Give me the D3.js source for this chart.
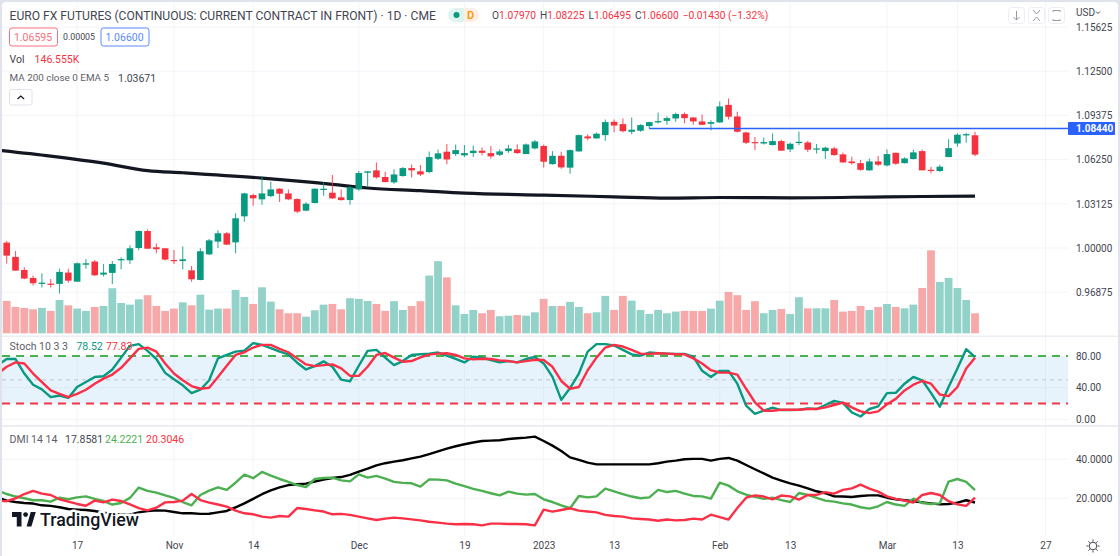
<!DOCTYPE html>
<html>
<head>
<meta charset="utf-8">
<script src="https://cdn.jsdelivr.net/npm/d3@7"></script>
<style>
html, body { margin: 0; padding: 0; background: #e0e3eb; overflow: hidden; }
svg { display: block; font-family: Roboto, "Noto Sans", sans-serif; }
.axis text { fill: #434651; font-size: 10px; font-family: Roboto, sans-serif; }
.axis .domain, .axis line { display: none; }
</style>
</head>
<body>
<svg id="chart" width="1120" height="556"></svg>
<script>
var opens = [1.0038,.9937,.9845,.9788,.9746,.9748,.9746,.9826,.9762,.9882,
.9904,.9812,.9824,.9913,.9913,1.0000,1.0120,1.0005,.9998,.9915,
.9908,.9842,.9774,.9955,1.0045,1.0104,1.0040,1.0224,1.0374,1.0344,
1.0367,1.0419,1.0386,1.0346,1.0264,1.0318,1.0410,1.0391,1.0358,1.0339,
1.0414,1.0532,1.0549,1.0502,1.0464,1.0509,1.0565,1.0542,1.0537,1.0631,
1.0681,1.0664,1.0655,1.0671,1.0688,1.0671,1.0659,1.0685,1.0697,1.0664,
1.0704,1.0721,1.0593,1.0652,1.0568,1.0683,1.0789,1.0775,1.0798,1.0892,
1.0876,1.0822,1.0829,1.0862,1.0888,1.0899,1.0916,1.0947,1.0923,1.0895,
1.0878,1.0888,1.1012,1.0930,1.0817,1.0749,1.0739,1.0728,1.0756,1.0697,
1.0742,1.0746,1.0699,1.0685,1.0704,1.0662,1.0612,1.0600,1.0549,1.0612,
1.0584,1.0673,1.0600,1.0629,1.0685,1.0553,1.0544,1.0643,1.0739,1.0796,1.0797];
var highs = [1.0050,.9979,.9864,.9805,.9821,.9781,.9854,.9854,.9897,.9922,
.9915,.9887,.9908,.9934,1.0019,1.0123,1.0132,1.0031,.9998,.9986,
1.0010,.9873,.9998,1.0064,1.0125,1.0113,1.0245,1.0391,1.0384,1.0509,
1.0469,1.0422,1.0414,1.0351,1.0323,1.0422,1.0464,1.0516,1.0414,1.0438,
1.0544,1.0544,1.0605,1.0539,1.0556,1.0572,1.0591,1.0586,1.0683,1.0697,
1.0735,1.0732,1.0728,1.0725,1.0711,1.0721,1.0699,1.0730,1.0732,1.0739,
1.0763,1.0732,1.0685,1.0681,1.0697,1.0803,1.0805,1.0817,1.0909,1.0909,
1.0916,1.0923,1.0876,1.0892,1.0958,1.0932,1.0956,1.0958,1.0925,1.0944,
1.0904,1.1036,1.1057,1.0963,1.0822,1.0784,1.0782,1.0810,1.0765,1.0746,
1.0824,1.0758,1.0735,1.0716,1.0716,1.0676,1.0645,1.0622,1.0633,1.0650,
1.0697,1.0676,1.0641,1.0697,1.0697,1.0575,1.0589,1.0768,1.0812,1.0815,1.08225];
var lows = [.9890,.9840,.9779,.9734,.9720,.9720,.9678,.9755,.9762,.9854,
.9802,.9798,.9746,.9850,.9887,.9984,.9995,.9962,.9911,.9887,
.9850,.9762,.9772,.9951,1.0000,1.0021,.9962,1.0186,1.0299,1.0306,
1.0358,1.0325,1.0337,1.0245,1.0259,1.0316,1.0370,1.0346,1.0334,1.0306,
1.0405,1.0433,1.0492,1.0464,1.0455,1.0504,1.0499,1.0509,1.0530,1.0622,
1.0593,1.0650,1.0643,1.0643,1.0655,1.0631,1.0650,1.0673,1.0666,1.0664,
1.0697,1.0570,1.0589,1.0560,1.0525,1.0681,1.0761,1.0772,1.0758,1.0819,
1.0817,1.0805,1.0822,1.0843,1.0881,1.0871,1.0892,1.0881,1.0871,1.0869,
1.0831,1.0885,1.0909,1.0817,1.0735,1.0692,1.0732,1.0725,1.0688,1.0678,
1.0728,1.0678,1.0669,1.0629,1.0652,1.0603,1.0591,1.0546,1.0546,1.0579,
1.0577,1.0589,1.0598,1.0626,1.0549,1.0527,1.0539,1.0641,1.0716,1.0744,1.06495];
var closes = [.9946,.9840,.9784,.9751,.9755,.9741,.9831,.9769,.9892,.9892,
.9807,.9826,.9887,.9922,.9998,1.0120,.9995,.9991,.9918,.9911,
.9920,.9779,.9977,1.0054,1.0104,1.0024,1.0210,1.0386,1.0351,1.0386,
1.0414,1.0384,1.0344,1.0257,1.0313,1.0419,1.0419,1.0351,1.0339,1.0429,
1.0530,1.0542,1.0499,1.0466,1.0520,1.0565,1.0549,1.0520,1.0643,1.0669,
1.0626,1.0692,1.0671,1.0688,1.0673,1.0648,1.0683,1.0704,1.0671,1.0732,
1.0753,1.0610,1.0652,1.0570,1.0692,1.0798,1.0775,1.0808,1.0890,1.0866,
1.0826,1.0836,1.0869,1.0890,1.0897,1.0918,1.0947,1.0918,1.0895,1.0871,
1.0890,1.1001,1.0928,1.0822,1.0744,1.0742,1.0749,1.0756,1.0688,1.0737,
1.0751,1.0695,1.0704,1.0709,1.0657,1.0605,1.0600,1.0553,1.0612,1.0589,
1.0664,1.0596,1.0633,1.0676,1.0549,1.0546,1.0575,1.0706,1.0801,1.0805,1.0660];
// volume in thousands
var volumes = [237,193,186,176,186,164,244,205,181,164,
193,200,330,222,210,249,279,200,164,181,
227,205,283,173,181,181,318,266,215,337,
232,176,147,147,122,169,210,215,176,257,
252,237,215,164,235,171,200,235,423,528,
410,205,142,171,147,171,125,129,134,129,
154,252,200,200,230,193,147,154,274,171,
274,239,171,142,171,147,159,164,164,164,
181,239,303,279,171,235,147,171,178,142,
264,183,183,183,244,159,164,200,171,193,
215,193,183,210,332,608,376,406,332,244,146.555];

// indicators start one session before the first visible candle
var stochK = [68.5,76.2,76.2,57.9,43.8,37.9,28.1,30.2,27.2,40.9,47.2,
53.6,54.5,63.0,77.9,92.8,94.9,86.4,76.2,58.7,50.6,
43.0,33.2,37.5,49.4,77.0,81.3,85.5,86.8,96.2,94.0,
89.8,85.5,82.1,71.5,63.0,67.2,73.2,66.4,50.2,48.1,
67.7,86.4,87.7,77.9,68.5,73.6,81.3,82.1,83.0,84.3,
80.4,76.2,71.9,79.1,77.9,74.9,71.9,73.6,71.9,76.2,
78.7,70.6,53.6,24.7,39.6,57.9,85.5,94.9,94.9,93.2,
87.7,82.1,80.4,84.3,83.4,83.0,82.6,82.6,79.1,61.3,
53.6,61.3,61.3,45.1,17.5,7.2,11.1,14.9,11.9,11.9,
12.3,14.0,13.2,18.3,23.4,20.9,8.9,3.8,13.2,16.6,
33.2,33.6,45.1,53.6,49.4,33.6,16.2,40.9,64.3,88.5,78.52];
var stochD = [57.9,66.4,71.9,70.6,57.9,47.2,36.6,32.3,28.1,32.3,37.5,
45.1,51.5,56.6,65.1,77.0,88.9,90.6,85.5,70.6,57.9,
49.4,42.1,38.7,40.0,53.6,67.7,81.3,84.7,90.6,94.0,
94.0,88.9,84.7,77.0,69.4,67.2,68.5,69.4,64.3,54.9,
54.9,66.4,81.3,83.8,77.9,72.8,73.6,78.3,81.7,83.0,
83.4,81.3,77.0,75.7,76.6,76.2,74.5,73.6,71.9,73.6,
75.3,74.9,66.4,48.5,38.7,40.9,62.1,77.9,90.6,94.0,
91.9,87.7,83.0,82.6,83.4,83.0,82.1,82.1,77.0,70.6,
62.1,59.1,59.1,56.6,38.7,21.7,11.1,11.1,12.3,12.3,
12.3,13.2,13.2,15.3,18.3,21.3,15.3,10.2,8.1,10.2,
19.2,26.0,36.6,43.8,48.5,45.1,31.5,29.4,40.9,64.3,77.83];
var adx = [20.3,18.8,18.1,17.6,17.3,16.4,16.1,15.4,14.5,14.2,14.0,
13.5,12.6,12.0,11.6,11.6,12.8,13.5,13.8,13.7,13.0,
12.3,12.3,12.0,12.1,12.8,13.5,15.4,17.4,19.7,22.1,
24.1,25.6,26.8,27.2,27.5,28.6,29.6,30.4,30.9,32.0,
33.7,35.2,36.9,38.0,38.8,39.5,40.5,41.4,42.7,44.1,
45.5,46.7,47.7,48.6,49.4,49.6,49.8,50.4,50.8,51.1,
51.6,49.4,47.0,44.3,41.0,39.7,38.3,37.4,37.4,37.4,
37.4,37.4,37.4,37.4,38.0,38.8,39.3,40.0,40.2,40.2,
39.3,40.2,40.7,39.3,37.1,34.9,32.8,30.6,29.1,27.7,
26.5,25.1,23.6,22.6,21.0,20.9,20.7,21.2,21.5,21.5,
20.3,19.5,19.0,18.5,17.9,17.4,16.9,17.1,17.8,19.0,17.8581];
var plusDI = [23.9,22.2,20.9,20.0,19.0,19.0,18.3,20.3,19.5,20.5,21.0,
19.7,18.6,16.8,17.6,20.2,25.5,23.8,22.9,21.5,20.2,
18.1,16.4,21.7,23.9,25.6,24.3,28.0,32.1,30.3,33.5,
31.6,29.9,28.4,26.8,25.8,29.9,30.4,30.6,29.2,28.7,
32.3,30.6,31.5,30.1,28.4,27.9,27.7,26.0,29.7,29.6,
29.2,27.5,26.2,24.8,23.8,22.6,21.5,23.4,22.4,21.9,
22.2,19.5,18.1,16.4,14.9,21.2,20.5,21.0,25.0,23.6,
22.1,20.9,20.0,20.5,24.3,23.2,23.8,22.4,21.2,21.0,
19.8,28.0,26.5,23.6,21.9,20.7,19.7,20.3,19.1,18.1,
22.7,21.7,20.2,18.8,18.3,17.4,16.8,15.4,14.7,15.9,
18.1,16.8,16.1,19.8,17.6,17.1,17.4,28.6,29.9,28.4,24.2221];
var minusDI = [18.8,18.5,20.0,22.2,23.8,22.4,21.7,19.5,18.3,17.1,16.2,
18.8,17.9,19.3,18.6,16.9,15.0,13.8,15.2,17.9,18.1,
18.8,22.2,19.1,17.8,16.8,15.7,13.7,12.3,11.8,10.6,
10.1,10.9,10.6,15.0,14.5,13.8,13.2,11.8,12.0,11.5,
10.6,9.7,8.9,9.6,10.1,9.7,9.2,8.7,8.0,7.5,
7.0,6.7,6.8,6.7,6.1,7.0,7.0,6.8,6.8,6.7,
6.1,14.2,13.2,14.0,14.9,13.7,13.2,12.8,11.5,10.9,
10.6,9.7,9.4,9.1,8.5,9.1,8.7,8.9,9.6,9.1,
11.6,10.3,9.1,15.0,20.3,21.5,20.9,19.5,21.4,21.0,
19.3,21.7,21.7,23.2,22.4,24.3,25.1,27.0,25.0,23.4,
21.0,19.7,18.8,17.8,21.7,22.7,21.7,18.5,16.9,16.1,20.3046];

var maSessions = [-1,5,11,16,20,29,37,41,47,52,61,69,75,81,89,100,110];
var maValues = [1.0692,1.0650,1.0600,1.0547,1.0532,1.0494,1.0450,1.0424,1.0405,1.0388,1.0374,1.0362,1.0353,1.0357,1.0355,1.0362,1.03671];

var priceTicks = [1.15625,1.125,1.09375,1.0625,1.03125,1,.96875];
var stochTicks = [80,40,0];
var dmiTicks = [40,20];
var timeSessions = [8,19,28,40,52,61,69,81,89,100,108,118];
var timeLabels = ['17','Nov','14','Dec','19','2023','13','Feb','13','Mar','13','27'];
var levelPrice = 1.0844;
var levelStart = 73;

var UP = '#089981', DOWN = '#f7323f', UP_VOL = '#92d2c9', DOWN_VOL = '#f7a9a9';
var GRID = '#f2f4f8', TEXT = '#434651', MUTED = '#5d606b';
var plotLeft = 2, plotRight = 1068;

var svg = d3.select('#chart');

// scales
var x = d3.scaleLinear().domain([0, 110]).range([6.7, 975]);
var yPrice = d3.scaleLinear().domain([1, 1.15625]).range([248, 27]);
var yVol = d3.scaleLinear().domain([0, 608]).range([333.3, 250.3]);
var yStoch = d3.scaleLinear().domain([0, 100]).range([419.5, 340.1]);
var yDmi = d3.scaleLinear().domain([20, 40]).range([498.3, 459.3]);

svg.append('rect').attr('x', 2).attr('y', 2).attr('width', 1116).attr('height', 560).attr('rx', 4).attr('fill', '#fff');

svg.append('clipPath').attr('id', 'plot').append('rect')
    .attr('x', plotLeft).attr('y', 2).attr('width', plotRight - plotLeft).attr('height', 540);

var plot = svg.append('g').attr('clip-path', 'url(#plot)');

// grid
plot.selectAll('.vgrid').data(timeSessions).enter().append('line')
    .attr('x1', function (d) { return x(d); }).attr('x2', function (d) { return x(d); })
    .attr('y1', 2).attr('y2', 535)
    .attr('stroke', GRID);

var hgrid = function (scale, ticks) {
    plot.selectAll(null).data(ticks).enter().append('line')
        .attr('x1', plotLeft).attr('x2', plotRight)
        .attr('y1', function (d) { return scale(d); }).attr('y2', function (d) { return scale(d); })
        .attr('stroke', GRID);
};
hgrid(yPrice, priceTicks);
hgrid(yDmi, dmiTicks);

// volume
var sessions = d3.range(opens.length);
plot.selectAll('.vol').data(sessions).enter().append('rect')
    .attr('x', function (i) { return x(i) - 3.9; })
    .attr('width', 7.8)
    .attr('y', function (i) { return yVol(volumes[i]); })
    .attr('height', function (i) { return yVol(0) - yVol(volumes[i]); })
    .attr('fill', function (i) { return closes[i] >= opens[i] ? UP_VOL : DOWN_VOL; });

// moving average
var indexLine = d3.line()
    .x(function (d) { return x(d[0]); })
    .y(function (d) { return yPrice(d[1]); })
    .curve(d3.curveMonotoneX);
plot.append('path')
    .attr('d', indexLine(maSessions.map(function (s, i) { return [s, maValues[i]]; })))
    .attr('fill', 'none').attr('stroke', '#131722').attr('stroke-width', 3.2);

// candles
plot.selectAll('.wick').data(sessions).enter().append('line')
    .attr('x1', function (i) { return x(i); }).attr('x2', function (i) { return x(i); })
    .attr('y1', function (i) { return yPrice(highs[i]); })
    .attr('y2', function (i) { return yPrice(lows[i]); })
    .attr('stroke', function (i) { return closes[i] >= opens[i] ? UP : DOWN; })
    .attr('stroke-width', 1.1)
    .attr('stroke-opacity', 0.8);
plot.selectAll('.body').data(sessions).enter().append('rect')
    .attr('x', function (i) { return x(i) - 3.3; })
    .attr('width', 6.6)
    .attr('y', function (i) { return yPrice(Math.max(opens[i], closes[i])); })
    .attr('height', function (i) { return Math.max(1.2, Math.abs(yPrice(opens[i]) - yPrice(closes[i]))); })
    .attr('fill', function (i) { return closes[i] >= opens[i] ? UP : DOWN; });

// horizontal level
plot.append('line')
    .attr('x1', x(levelStart)).attr('x2', plotRight)
    .attr('y1', yPrice(levelPrice)).attr('y2', yPrice(levelPrice))
    .attr('stroke', '#2962ff').attr('stroke-width', 1.5);

// stochastic pane
plot.append('rect')
    .attr('x', plotLeft).attr('width', plotRight - plotLeft)
    .attr('y', yStoch(80)).attr('height', yStoch(20) - yStoch(80))
    .attr('fill', '#e6f3fd');
plot.selectAll('.vgrid2').data(timeSessions).enter().append('line')
    .attr('x1', function (d) { return x(d); }).attr('x2', function (d) { return x(d); })
    .attr('y1', yStoch(80)).attr('y2', yStoch(20))
    .attr('stroke', '#dfe9f2');
plot.append('line').attr('x1', plotLeft).attr('x2', plotRight)
    .attr('y1', yStoch(40)).attr('y2', yStoch(40)).attr('stroke', '#dfe9f2');
plot.append('line').attr('x1', plotLeft).attr('x2', plotRight)
    .attr('y1', yStoch(0)).attr('y2', yStoch(0)).attr('stroke', GRID);
plot.append('line').attr('x1', plotLeft).attr('x2', plotRight)
    .attr('y1', yStoch(50)).attr('y2', yStoch(50))
    .attr('stroke', '#c3c6ce').attr('stroke-dasharray', '4 4');
plot.append('line').attr('x1', plotLeft).attr('x2', plotRight)
    .attr('y1', yStoch(80)).attr('y2', yStoch(80))
    .attr('stroke', '#4caf50').attr('stroke-width', 2).attr('stroke-dasharray', '8 6');
plot.append('line').attr('x1', plotLeft).attr('x2', plotRight)
    .attr('y1', yStoch(20)).attr('y2', yStoch(20))
    .attr('stroke', '#f23645').attr('stroke-width', 2).attr('stroke-dasharray', '8 6');

var seriesLine = function (scale, values, color) {
    var line = d3.line()
        .x(function (d, i) { return x(i - 1); })
        .y(function (d) { return scale(d); });
    plot.append('path').attr('d', line(values))
        .attr('fill', 'none').attr('stroke', color).attr('stroke-width', 2.4)
        .attr('stroke-linejoin', 'round');
};
seriesLine(yStoch, stochK, UP);
seriesLine(yStoch, stochD, '#fb2f46');

// pane separator
svg.append('rect').attr('x', 2).attr('y', 335.5).attr('width', 1116).attr('height', 1.5).attr('fill', '#eceef3');
svg.append('rect').attr('x', 2).attr('y', 425).attr('width', 1116).attr('height', 2).attr('fill', '#eceef3');

// DMI pane
seriesLine(yDmi, adx, '#000');
seriesLine(yDmi, plusDI, '#4caf50');
seriesLine(yDmi, minusDI, '#fb2f46');

// watermark
var logo = svg.append('g').attr('transform', 'translate(12,512)');
logo.append('text').attr('x', 28).attr('y', 13.5)
    .attr('font-family', 'Roboto, sans-serif').attr('font-size', 17.8).attr('font-weight', 500)
    .attr('fill', 'none').attr('stroke', '#fff').attr('stroke-width', 5).attr('stroke-linejoin', 'round')
    .text('TradingView');
logo.append('path').attr('transform', 'scale(0.68,0.72)')
    .attr('d', 'M14 0H0v7h7v13h7V0Zm14 20h-6.5l6-20H35l-6.5 20Z')
    .attr('fill', '#131722');
logo.append('circle').attr('cx', 13.6).attr('cy', 2.6).attr('r', 2.4).attr('fill', '#131722');
logo.append('text').attr('x', 28).attr('y', 13.5)
    .attr('font-family', 'Roboto, sans-serif').attr('font-size', 17.8).attr('font-weight', 500)
    .attr('fill', '#131722')
    .text('TradingView');

// axes
var axisX = 1076;
var rightAxis = function (scale, ticks, fmt) {
    svg.append('g').attr('class', 'axis')
        .attr('transform', 'translate(' + (axisX - 3) + ',0)')
        .call(d3.axisRight(scale).tickValues(ticks).tickSize(0).tickPadding(3).tickFormat(fmt));
};
rightAxis(yPrice, priceTicks, d3.format('.5f'));
rightAxis(yStoch, stochTicks, d3.format('.2f'));
rightAxis(yDmi, dmiTicks, d3.format('.4f'));

svg.append('g').attr('class', 'axis')
    .attr('transform', 'translate(0,538.5)')
    .call(d3.axisBottom(x).tickValues(timeSessions).tickSize(0).tickPadding(3)
        .tickFormat(function (d, i) { return timeLabels[i]; }));

// texts
var label = function (px, py, txt, color, size, weight) {
    return svg.append('text').attr('x', px).attr('y', py).attr('dy', '0.35em')
        .attr('font-size', size || 10.5).attr('font-weight', weight || 400)
        .attr('fill', color).text(txt);
};

label(9.6, 15.5, 'EURO FX FUTURES (CONTINUOUS: CURRENT CONTRACT IN FRONT) · 1D · CME', TEXT, 12.1);

// status pill
svg.append('path').attr('d', 'M455 8h9v14h-9a7 7 0 0 1 0-14Z').attr('fill', '#dff3ef');
svg.append('path').attr('d', 'M464 8h8a7 7 0 0 1 0 14h-8Z').attr('fill', '#fdeee6');
svg.append('circle').attr('cx', 456.5).attr('cy', 15).attr('r', 3).attr('fill', UP);
label(467, 15.5, 'D', '#ff9800', 11, 600);

var ohlc = [['O', 1.0797], ['H', 1.08225], ['L', 1.06495], ['C', 1.066]];
var ohlcText = svg.append('text').attr('x', 492).attr('y', 15.5).attr('dy', '0.35em').attr('font-size', 10.2);
ohlc.forEach(function (d, i) {
    ohlcText.append('tspan').attr('fill', TEXT).attr('dx', i ? 4 : 0).text(d[0]);
    ohlcText.append('tspan').attr('fill', DOWN).text(d3.format('.5f')(d[1]));
});
ohlcText.append('tspan').attr('fill', DOWN).attr('dx', 4).text('−0.01430 (−1.32%)');

// bid / ask boxes
var box = function (bx, by, w, h, color, txt) {
    svg.append('rect').attr('x', bx + 0.5).attr('y', by + 0.5).attr('width', w).attr('height', h).attr('rx', 2.5)
        .attr('fill', '#fff').attr('stroke', color).attr('stroke-width', 1);
    svg.append('text').attr('x', bx + w / 2).attr('y', by + h / 2 + 0.5).attr('dy', '0.35em')
        .attr('text-anchor', 'middle').attr('font-size', 10.5).attr('fill', color).text(txt);
};
box(9, 27.5, 48, 18, '#f7707c', '1.06595');
box(100.5, 27.5, 48, 18, '#5b8bff', '1.06600');
label(63, 37, '0.00005', TEXT, 8.8);

label(9.6, 59, 'Vol', TEXT);
label(34.6, 59, '146.555K', DOWN);
label(9.6, 78, 'MA 200 close 0 EMA 5', MUTED, 9.9);
label(118, 78, '1.03671', TEXT);

// collapse button
svg.append('rect').attr('x', 9.5).attr('y', 89.5).attr('width', 22.5).attr('height', 15.5).attr('rx', 2)
    .attr('fill', '#fff').attr('stroke', '#e0e3eb');
svg.append('path').attr('d', 'M17.5 99l3.3-3 3.3 3').attr('fill', 'none').attr('stroke', '#131722').attr('stroke-width', 1.2);

label(9.6, 346.5, 'Stoch 10 3 3', MUTED);
label(76.4, 346.5, '78.52', UP);
label(106, 346.5, '77.83', DOWN);
label(9.6, 439, 'DMI 14 14', MUTED);
label(65, 439, '17.8581', TEXT);
label(105, 439, '24.2221', '#4caf50');
label(146, 439, '20.3046', DOWN);

// price label on the level
svg.append('rect').attr('x', 1068).attr('y', yPrice(levelPrice) - 6.5).attr('width', 47).attr('height', 13).attr('rx', 1).attr('fill', '#2962ff');
svg.append('text').attr('x', 1076).attr('y', yPrice(levelPrice)).attr('dy', '0.35em')
    .attr('font-size', 10).attr('font-weight', 700).attr('fill', '#fff').text(d3.format('.5f')(levelPrice));

// top right controls
[1008, 1028, 1048].forEach(function (bx) {
    svg.append('rect').attr('x', bx + 0.5).attr('y', 7.5).attr('width', 16).attr('height', 16).attr('rx', 3)
        .attr('fill', '#fff').attr('stroke', '#eceef3');
});
var iconStyle = function (sel) {
    return sel.attr('fill', 'none').attr('stroke', '#9598a1').attr('stroke-width', 1);
};
iconStyle(svg.append('path')).attr('d', 'M1016.5 11v9M1013.5 17l3 3 3-3');
iconStyle(svg.append('path')).attr('d', 'M1033 10l3.5 4 3.5-4M1033 21l3.5-4 3.5 4');
iconStyle(svg.append('path')).attr('d', 'M1053 12v-1.5h7v1.5M1053 19v1.5h7v-1.5');
label(1076, 12.5, 'USD', TEXT, 10);
iconStyle(svg.append('path')).attr('d', 'M1096 11.5l2 2 2-2').attr('stroke', TEXT);

// settings sun icon
iconStyle(svg.append('circle')).attr('cx', 1093).attr('cy', 546).attr('r', 3.8).attr('stroke', TEXT);
iconStyle(svg.append('path')).attr('stroke', TEXT)
    .attr('d', 'M1093 539.5v2M1093 550.5v2M1086.5 546h2M1097.5 546h2M1088.4 541.4l1.4 1.4M1096.2 549.2l1.4 1.4M1097.6 541.4l-1.4 1.4M1089.8 549.2l-1.4 1.4');
</script>
</body>
</html>
